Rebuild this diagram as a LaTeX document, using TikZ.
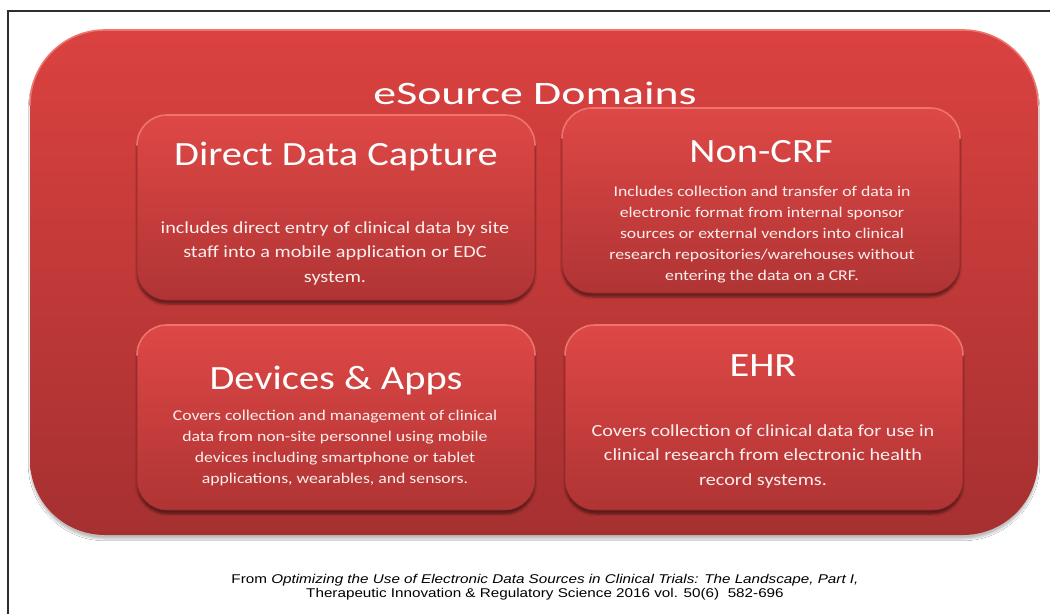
\documentclass[tikz,border=0pt]{standalone}
\usepackage{fontspec}
\newfontfamily\headfont[FakeStretch=1.4]{Carlito}
\newfontfamily\panelfont[FakeStretch=1.19]{Carlito}
\newfontfamily\citefont[FakeStretch=1.2]{Liberation Sans}
\usetikzlibrary{shadows,shadows.blur}

\definecolor{outertop}{RGB}{218,66,64}
\definecolor{outerbot}{RGB}{166,48,48}
\definecolor{innertop}{RGB}{222,72,70}
\definecolor{innerbot}{RGB}{176,52,52}
\definecolor{rimlight}{RGB}{238,116,110}
\definecolor{paneledge}{RGB}{150,42,42}
\definecolor{frameline}{RGB}{45,45,45}
\definecolor{bodywhite}{RGB}{252,238,236}

% light rim along the top edge of a rounded box: node name, corner radius
\newcommand\toprim[2]{%
  \draw[rim] ([yshift=-#2]#1.north west) arc[start angle=180,end angle=90,radius=#2]
    -- ([xshift=-#2]#1.north east) arc[start angle=90,end angle=0,radius=#2];}

\begin{document}
\begin{tikzpicture}[x=1pt,y=-1pt,
  outerbox/.style={rounded corners=75pt, outer sep=0pt, inner sep=0pt,
    top color=outertop, bottom color=outerbot,
    minimum width=1008pt, minimum height=505pt,
    blur shadow={shadow xshift=0pt, shadow yshift=-4pt, shadow opacity=25, shadow blur steps=6}},
  panel/.style={rounded corners=30pt, outer sep=0pt, inner sep=0pt,
    top color=innertop, bottom color=innerbot, draw=paneledge, line width=0.6pt,
    minimum width=398pt, minimum height=185pt,
    blur shadow={shadow xshift=0pt, shadow yshift=-4pt, shadow opacity=45, shadow blur steps=6}},
  rim/.style={draw=rimlight, line width=1.6pt, line cap=round},
  headtxt/.style={anchor=base, text=white, inner sep=0pt, font=\headfont\fontsize{32.7}{36}\selectfont},
  titletxt/.style={anchor=base, text=white, inner sep=0pt, font=\panelfont\fontsize{34}{38}\selectfont},
  % multi-line texts are placed by the baseline of their last line
  bigbody/.style={anchor=base, text=bodywhite, inner sep=0pt, align=center, font=\panelfont\fontsize{17}{24.5}\selectfont},
  smallbody/.style={anchor=base, text=bodywhite, inner sep=0pt, align=center, font=\panelfont\fontsize{14.9}{21}\selectfont},
  citetxt/.style={anchor=base, text=black, inner sep=0pt, align=center, font=\citefont\fontsize{12.7}{14.5}\selectfont}
]
\useasboundingbox (0,0) rectangle (1050,614);
\fill[white] (0,0) rectangle (1050,614);

% page frame
\coordinate (fbl) at (8,614);
\coordinate (ftl) at (8,11);
\coordinate (ftr) at (1050,11);
\draw[frameline, line width=1.2pt] (fbl) -- (ftl) -- (ftr);

% outer domain box
\node[outerbox] (dom) at (534,282.5) {};
\toprim{dom}{75pt}
\node[headtxt] (domt) at (535,104) {eSource Domains};

% four panels
\node[panel] (ddc)  at (336,207.5) {};
\node[panel] (ncrf) at (761,200.5) {};
\node[panel] (dev)  at (336,417.5) {};
\node[panel] (ehr)  at (764,417.5) {};
\toprim{ddc}{30pt}
\toprim{ncrf}{30pt}
\toprim{dev}{30pt}
\toprim{ehr}{30pt}

\node[titletxt] (ddct) at (336,165) {Direct Data Capture};
\node[bigbody] (ddcb) at (335,282) {includes direct entry of clinical data by site\\staff into a mobile application or EDC\\system.};

\node[titletxt] (ncrft) at (761,162) {Non-CRF};
\node[smallbody] (ncrfb) at (762,280) {Includes collection and transfer of data in\\electronic format from internal sponsor\\sources or external vendors into clinical\\research repositories/warehouses without\\entering the data on a CRF.};

\node[titletxt] (devt) at (336,389) {Devices \& Apps};
\node[smallbody] (devb) at (335,483) {Covers collection and management of clinical\\data from non-site personnel using mobile\\devices including smartphone or tablet\\applications, wearables, and sensors.};

\node[titletxt] (ehrt) at (763,376) {EHR};
\node[bigbody] (ehrb) at (763,485) {Covers collection of clinical data for use in\\clinical research from electronic health\\record systems.};

% source line
\node[citetxt] (cite) at (545,597.5) {From \textit{Optimizing the Use of Electronic Data Sources in Clinical Trials: The Landscape, Part I,}\\Therapeutic Innovation \& Regulatory Science 2016 vol. 50(6)\ \ 582-696};
\end{tikzpicture}
\end{document}
